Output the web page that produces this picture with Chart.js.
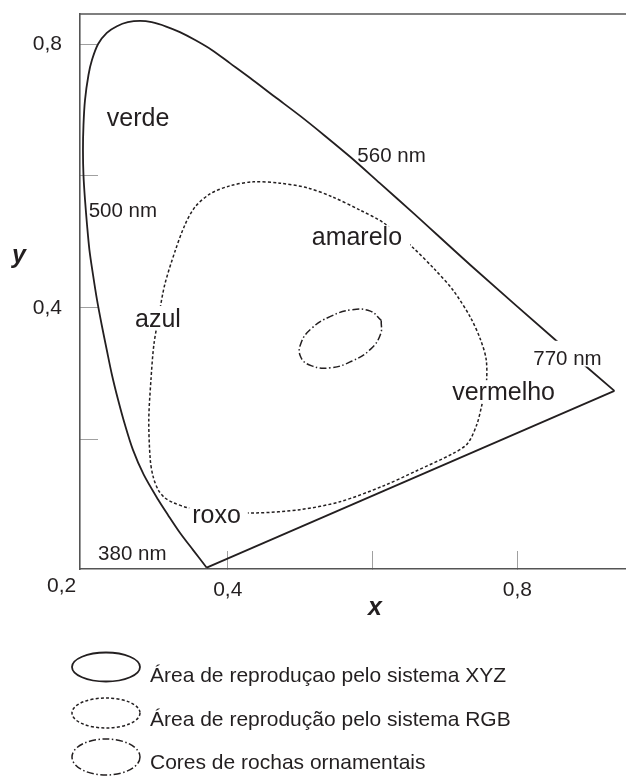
<!DOCTYPE html>
<html>
<head>
<meta charset="utf-8">
<script src="https://cdn.jsdelivr.net/npm/chart.js@4.4.1/dist/chart.umd.min.js"></script>
<style>
html,body{margin:0;padding:0;background:#fff;overflow:hidden}
canvas{display:block}
</style>
</head>
<body>
<canvas id="c" width="626" height="776"></canvas>
<script>
// ---------- DATA (axis units) ----------
// Spectral locus (solid), from 380 nm up the left side, over the top, down to 770 nm
const locusX = [0.371, 0.352, 0.334, 0.3175, 0.304, 0.284, 0.269, 0.258, 0.2485, 0.240, 0.233, 0.226, 0.2195, 0.214, 0.209, 0.2057, 0.2029, 0.2008, 0.2001, 0.2008, 0.2029, 0.2077, 0.2126, 0.221, 0.233, 0.247, 0.262, 0.279, 0.295, 0.315, 0.334, 0.355, 0.378, 0.403, 0.431, 0.465, 0.500, 0.534, 0.569, 0.610, 0.656, 0.735, 0.855, 0.934];
const locusY = [0.006, 0.033, 0.059, 0.086, 0.109, 0.147, 0.185, 0.223, 0.261, 0.299, 0.336, 0.374, 0.412, 0.450, 0.488, 0.526, 0.564, 0.601, 0.639, 0.677, 0.715, 0.753, 0.776, 0.800, 0.817, 0.827, 0.833, 0.835, 0.833, 0.8265, 0.818, 0.806, 0.791, 0.771, 0.7485, 0.720, 0.691, 0.661, 0.629, 0.589, 0.544, 0.465, 0.349, 0.274];
// Purple line (straight) 380 nm -> 770 nm
const purpleX = [0.371, 0.934];
const purpleY = [0.006, 0.274];
// RGB reproduction area (dotted closed curve)
const rgbX = [0.389, 0.440, 0.500, 0.555, 0.615, 0.661, 0.711, 0.731, 0.744, 0.751, 0.757, 0.757, 0.749, 0.735, 0.711, 0.686, 0.656, 0.615, 0.583, 0.545, 0.510, 0.472, 0.435, 0.403, 0.376, 0.355, 0.341, 0.327, 0.313, 0.305, 0.298, 0.294, 0.291, 0.293, 0.297, 0.304, 0.313, 0.324, 0.345, 0.389];
const rgbY = [0.091, 0.089, 0.094, 0.106, 0.130, 0.153, 0.179, 0.194, 0.223, 0.253, 0.283, 0.321, 0.352, 0.386, 0.427, 0.458, 0.491, 0.529, 0.548, 0.568, 0.582, 0.589, 0.591, 0.585, 0.573, 0.553, 0.526, 0.485, 0.435, 0.389, 0.344, 0.291, 0.230, 0.170, 0.144, 0.124, 0.112, 0.105, 0.097, 0.091];
// Ornamental rock colours (dash-dot closed curve)
const rockX = [0.612, 0.611, 0.597, 0.571, 0.542, 0.516, 0.501, 0.501, 0.516, 0.542, 0.571, 0.597, 0.612];
const rockY = [0.381, 0.360, 0.337, 0.319, 0.309, 0.312, 0.325, 0.346, 0.369, 0.387, 0.397, 0.395, 0.381];

// Ticks
const xTickValues = [0.4, 0.6, 0.8];
const xTickLabels = ['0,4', '', '0,8'];
const yTickValues = [0.2, 0.4, 0.6, 0.8];
const yTickLabels = ['', '0,4', '', '0,8'];
const cornerLabel = '0,2';
const xTitle = 'x';
const yTitle = 'y';

// Text annotations (anchor = left end of text baseline, axis units)
const regionNames = ['verde', 'amarelo', 'azul', 'vermelho', 'roxo'];
const regionX = [0.233, 0.516, 0.272, 0.710, 0.351];
const regionY = [0.676, 0.495, 0.371, 0.260, 0.074];
const nmNames = ['500 nm', '560 nm', '770 nm', '380 nm'];
const nmX = [0.208, 0.579, 0.822, 0.221];
const nmY = [0.537, 0.621, 0.314, 0.018];

// Legend
const legendLabels = ['Área de reproduçao pelo sistema XYZ', 'Área de reprodução pelo sistema RGB', 'Cores de rochas ornamentais'];

// ---------- STYLE ----------
const FONT = '"Liberation Sans", Arial, Helvetica, sans-serif';
const INK = '#231f20';
const FRAME = '#555555';
const TICK = '#a0a0a0';
const X_MIN = 0.196, X_MAX = 0.950;
const Y_MIN = 0.004, Y_MAX = 0.8455;
const SOLID = [];
const DOTTED = [3, 2.2];
const DASHDOT = [7, 2.5, 1.5, 2.5];
// white masks behind labels: [left, top, right, bottom] extra pixels
const maskPad = {
  'amarelo': [2, 1, 8, 5],
  'azul': [3, 3, 3, 3],
  'vermelho': [3, 2, 3, 3],
  'roxo': [3, 2, 7, 3],
  '770 nm': [3, 9, 3, 2]
};

const pts = (xs, ys) => xs.map((v, i) => ({x: v, y: ys[i]}));
const labelFor = (v, vals, labs) => {
  const i = vals.findIndex(t => Math.abs(t - v) < 1e-9);
  return i >= 0 ? labs[i] : '';
};
const noPad = s => { s.paddingTop = 0; s.paddingBottom = 0; s.paddingLeft = 0; s.paddingRight = 0; };

const annotationsPlugin = {
  id: 'annotations',
  afterDatasetsDraw(chart) {
    const {ctx, scales: {x, y}} = chart;
    ctx.save();
    const draw = (txt, vx, vy, size) => {
      const px = x.getPixelForValue(vx);
      const py = y.getPixelForValue(vy);
      ctx.font = size + 'px ' + FONT;
      const w = ctx.measureText(txt).width;
      const pad = maskPad[txt];
      if (pad) {
        ctx.fillStyle = '#ffffff';
        const top = py - 0.72 * size - pad[1];
        ctx.fillRect(px - pad[0], top, w + pad[0] + pad[2], (py + pad[3]) - top);
      }
      ctx.fillStyle = INK;
      ctx.textAlign = 'left';
      ctx.textBaseline = 'alphabetic';
      ctx.fillText(txt, px, py);
    };
    regionNames.forEach((t, i) => draw(t, regionX[i], regionY[i], 25));
    nmNames.forEach((t, i) => draw(t, nmX[i], nmY[i], 20.5));
    ctx.restore();
  },
  afterDraw(chart) {
    const {ctx, chartArea} = chart;
    ctx.save();
    // top frame line
    ctx.strokeStyle = FRAME;
    ctx.lineWidth = 1.6;
    ctx.beginPath();
    ctx.moveTo(chartArea.left - 0.8, chartArea.top);
    ctx.lineTo(chartArea.right, chartArea.top);
    ctx.stroke();
    // corner label and axis titles
    ctx.fillStyle = INK;
    ctx.textBaseline = 'alphabetic';
    ctx.textAlign = 'left';
    ctx.font = '21px ' + FONT;
    ctx.fillText(cornerLabel, 47, 592);
    ctx.font = 'italic bold 25px ' + FONT;
    ctx.fillText(yTitle, 12, 263);
    ctx.fillText(xTitle, 368, 615);
    // legend
    const styles = [SOLID, DOTTED, DASHDOT];
    const cy = [667, 713, 757];
    const ry = [14.5, 15, 18];
    const base = [682, 726, 769];
    legendLabels.forEach((lab, i) => {
      ctx.strokeStyle = INK;
      ctx.lineWidth = i === 0 ? 1.8 : 1.5;
      ctx.setLineDash(styles[i]);
      ctx.beginPath();
      ctx.ellipse(106, cy[i], 34, ry[i], 0, 0, Math.PI * 2);
      ctx.stroke();
      ctx.setLineDash([]);
      ctx.font = '21px ' + FONT;
      ctx.fillStyle = INK;
      ctx.fillText(lab, 150, base[i]);
    });
    ctx.restore();
  }
};

const common = {showLine: true, pointRadius: 0, pointHoverRadius: 0, borderColor: INK, fill: false};

new Chart(document.getElementById('c'), {
  type: 'scatter',
  data: {
    datasets: [
      Object.assign({}, common, {label: 'XYZ', data: pts(locusX, locusY), borderWidth: 1.8, tension: 0.3, borderDash: SOLID}),
      Object.assign({}, common, {label: 'XYZ purple', data: pts(purpleX, purpleY), borderWidth: 1.8, tension: 0}),
      Object.assign({}, common, {label: 'RGB', data: pts(rgbX, rgbY), borderWidth: 1.5, tension: 0.3, borderDash: DOTTED}),
      Object.assign({}, common, {label: 'Rochas', data: pts(rockX, rockY), borderWidth: 1.5, tension: 0.45, borderDash: DASHDOT})
    ]
  },
  options: {
    responsive: false,
    animation: false,
    devicePixelRatio: 1,
    layout: {padding: {top: 14, left: 0, right: 0, bottom: 0}},
    plugins: {legend: {display: false}, tooltip: {enabled: false}, title: {display: false}},
    events: [],
    scales: {
      x: {
        type: 'linear', position: 'bottom', min: X_MIN, max: X_MAX,
        afterBuildTicks: s => { s.ticks = xTickValues.map(v => ({value: v})); },
        afterFit: s => { s.height = 207; noPad(s); },
        ticks: {autoSkip: false, maxRotation: 0, minRotation: 0, padding: 27, color: INK,
          font: {family: FONT, size: 21},
          callback: v => labelFor(v, xTickValues, xTickLabels)},
        grid: {drawOnChartArea: false, drawTicks: true, tickLength: -18, color: TICK, tickColor: TICK, lineWidth: 1, tickWidth: 1},
        border: {display: true, color: FRAME, width: 1.6}
      },
      y: {
        type: 'linear', position: 'left', min: Y_MIN, max: Y_MAX,
        afterBuildTicks: s => { s.ticks = yTickValues.map(v => ({value: v})); },
        afterFit: s => { s.width = 80; noPad(s); },
        ticks: {autoSkip: false, padding: 36, color: INK,
          font: {family: FONT, size: 21},
          callback: v => labelFor(v, yTickValues, yTickLabels)},
        grid: {drawOnChartArea: false, drawTicks: true, tickLength: -18, color: TICK, tickColor: TICK, lineWidth: 1, tickWidth: 1},
        border: {display: true, color: FRAME, width: 1.6}
      }
    }
  },
  plugins: [annotationsPlugin]
});
</script>
</body>
</html>
